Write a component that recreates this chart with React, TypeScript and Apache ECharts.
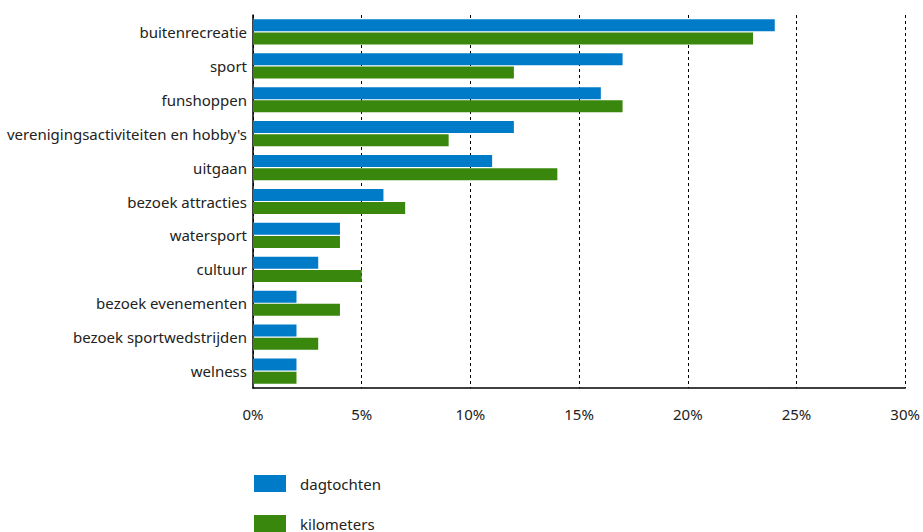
import React, { useEffect, useRef } from "react";
import * as echarts from "echarts";

const categories = [
  "buitenrecreatie",
  "sport",
  "funshoppen",
  "verenigingsactiviteiten en hobby's",
  "uitgaan",
  "bezoek attracties",
  "watersport",
  "cultuur",
  "bezoek evenementen",
  "bezoek sportwedstrijden",
  "welness",
];
const dagtochten = [24, 17, 16, 12, 11, 6, 4, 3, 2, 2, 2];
const kilometers = [23, 12, 17, 9, 14, 7, 4, 5, 4, 3, 2];
const seriesNames = ["dagtochten", "kilometers"];

const FONT = "'Noto Sans', 'Open Sans', sans-serif";

export default function App() {
  const ref = useRef<HTMLDivElement>(null);
  useEffect(() => {
    if (!ref.current) return;
    const chart = echarts.init(ref.current, null, { renderer: "svg" });
    const legendBase = {
      orient: "vertical",
      left: 254,
      padding: 0,
      itemWidth: 32,
      itemHeight: 17,
      icon: "rect",
      textStyle: { fontSize: 15, color: "#222", fontFamily: FONT, padding: [0, 0, 0, 9] },
    };
    chart.setOption({
      animation: false,
      textStyle: { fontFamily: FONT },
      grid: { left: 253, right: 13, top: 15, bottom: 144, containLabel: false },
      legend: [
        { ...legendBase, top: 475, data: [seriesNames[0]] },
        { ...legendBase, top: 515, data: [seriesNames[1]] },
      ],
      xAxis: {
        type: "value",
        min: 0,
        max: 30,
        interval: 5,
        axisLine: { show: true, lineStyle: { color: "#000", width: 1.5 } },
        axisTick: { show: false },
        axisLabel: {
          formatter: "{value}%",
          fontSize: 15,
          color: "#222",
          margin: 18,
          fontFamily: FONT,
        },
        splitLine: { show: true, lineStyle: { color: "#000", type: [3, 3], width: 1 } },
      },
      yAxis: {
        type: "category",
        data: categories,
        inverse: true,
        axisLine: { show: true, lineStyle: { color: "#000", width: 1.5 } },
        axisTick: { show: false },
        axisLabel: { fontSize: 15, color: "#222", margin: 6, fontFamily: FONT },
      },
      series: [
        {
          name: seriesNames[0],
          type: "bar",
          data: dagtochten,
          barWidth: 12,
          barGap: "10%",
          itemStyle: { color: "#007bc7" },
        },
        {
          name: seriesNames[1],
          type: "bar",
          data: kilometers,
          barWidth: 12,
          barGap: "10%",
          itemStyle: { color: "#39870c" },
        },
      ],
    });
    return () => chart.dispose();
  }, []);
  return <div ref={ref} style={{ width: 923, height: 532, position: "absolute", left: 0, top: 0 }} />;
}
